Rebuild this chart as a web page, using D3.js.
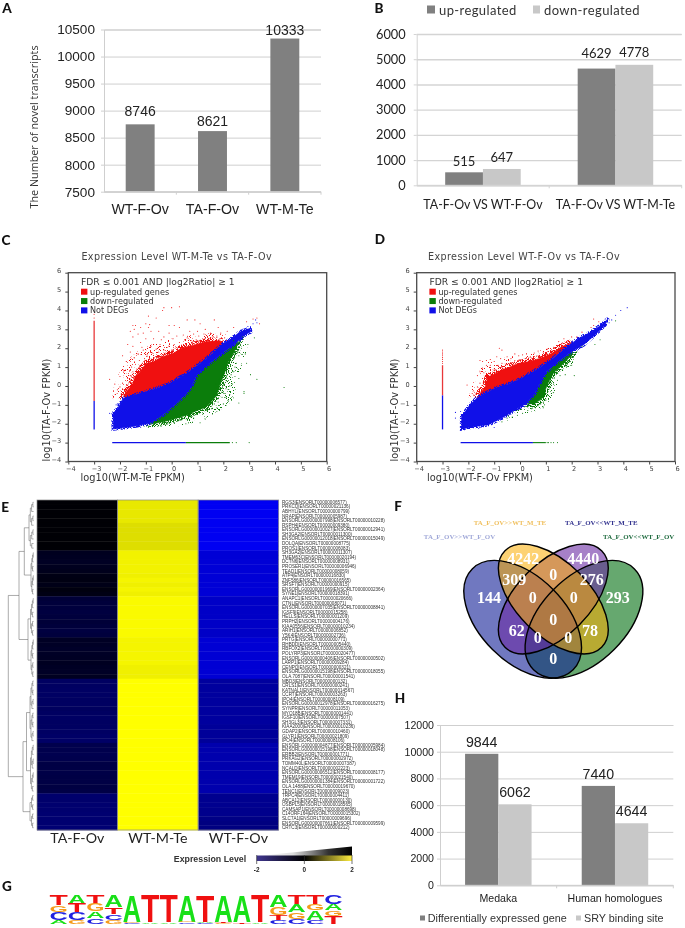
<!DOCTYPE html>
<html><head><meta charset="utf-8">
<script src="https://cdn.jsdelivr.net/npm/d3@7"></script>
<style>html,body{margin:0;padding:0;background:#fff}svg{display:block;filter:blur(.3px)}</style>
</head><body><svg id="c" width="685" height="928" viewBox="0 0 685 928">
<defs>
<filter id="speckSparse" filterUnits="userSpaceOnUse" x="0" y="220" width="685" height="260" color-interpolation-filters="sRGB">
 <feTurbulence type="fractalNoise" baseFrequency="1.05" numOctaves="1" seed="4" result="n"/>
 <feColorMatrix in="n" type="matrix" values="0 0 0 0 0  0 0 0 0 0  0 0 0 0 0  22 0 0 0 -13.6" result="t"/>
 <feComposite in="SourceGraphic" in2="t" operator="in"/>
</filter>
<filter id="speckDense" filterUnits="userSpaceOnUse" x="0" y="220" width="685" height="260" color-interpolation-filters="sRGB">
 <feTurbulence type="fractalNoise" baseFrequency="1.05" numOctaves="1" seed="9" result="n"/>
 <feColorMatrix in="n" type="matrix" values="0 0 0 0 0  0 0 0 0 0  0 0 0 0 0  22 0 0 0 -10.6" result="t"/>
 <feComposite in="SourceGraphic" in2="t" operator="in"/>
</filter>
</defs>
</svg>
<script>
// ---------- A
const aCategories=["WT-F-Ov","TA-F-Ov","WT-M-Te"];
const aValues=[8746,8621,10333];
const aTicks=[7500,8000,8500,9000,9500,10000,10500];
// ---------- B
const bCategories=["TA-F-Ov VS WT-F-Ov","TA-F-Ov VS WT-M-Te"];
const bUp=[515,4629];
const bDown=[647,4778];
const bTicks=[0,1000,2000,3000,4000,5000,6000];
// ---------- H
const hCategories=["Medaka","Human homologues"];
const hDiff=[9844,7440];
const hSry=[6062,4644];
const hTicks=[0,2000,4000,6000,8000,10000,12000];
// ---------- C scatter (log10 FPKM), outlines of clouds and individually read points
const cRedCloud=[[-1.87,-.56],[-1.7,-.2],[-1.5,.1],[-1.42,.5],[-1.25,.72],[-1.1,1.0],[-.97,1.2],[-.7,1.28],[-.45,1.5],[-.2,1.62],[.1,1.75],[.35,1.98],[.58,2.08],[.95,2.2],[1.35,2.35],[1.87,2.4],[2.0,2.26],[1.35,1.46],[.58,.67],[-.19,.05],[-.58,-.12],[-1.22,-.39],[-1.74,-.65]];
const cRedHalo=[[-2.3,-.7],[-2.2,.3],[-1.85,1.2],[-1.3,1.85],[-.8,2.2],[0,2.5],[.8,2.7],[1.6,2.8],[2.2,2.7],[2.1,2.25],[1.35,1.46],[.58,.67],[-.19,.05],[-1.22,-.39],[-1.74,-.65]];
const cBlueCloud=[[-2.26,-1.45],[-2.05,-1.1],[-1.87,-.65],[-1.22,-.39],[-.58,-.12],[-.19,.05],[.58,.67],[1.35,1.46],[2.0,2.26],[2.3,2.5],[2.65,2.87],[3.03,3.05],[3.06,2.87],[2.84,2.7],[2.39,2.17],[1.87,1.64],[1.23,.93],[.97,.58],[.77,-.04],[.58,-.39],[.19,-.92],[-.32,-1.53],[-.84,-1.98],[-1.48,-2.15],[-2.26,-2.28]];
const cGreenCloud=[[.97,.58],[1.23,.93],[1.87,1.64],[2.39,2.17],[2.6,2.35],[2.4,1.75],[2.2,1.3],[2.05,.7],[1.85,.0],[1.75,-.5],[1.35,-1.1],[.9,-1.35],[.58,-1.55],[-.19,-1.85],[-.71,-2.0],[-.84,-1.98],[-.32,-1.53],[.19,-.92],[.58,-.39],[.77,-.04]];
const cGreenHalo=[[2.6,2.35],[2.95,2.25],[2.85,1.5],[2.65,.8],[2.55,0],[2.35,-.8],[1.75,-1.4],[1,-1.9],[.2,-2.15],[-.5,-2.15],[-.84,-2.05],[-.32,-1.53],[.58,-.39],[.97,.58],[1.87,1.64]];
const cRedPoints=[[-1.5,3.2],[-1.45,3.0],[-1.4,3.2],[-1.6,2.9],[-1.5,2.6],[-1.3,2.75],[-1.2,3.1],[-1.1,2.8],[-1.0,3.3],[-.9,3.1],[-.85,3.25],[-.8,2.9],[-.7,2.5],[-1.0,2.5],[-1.7,2.2],[-1.5,2.1],[-1.2,2.3],[-.6,3.6],[-.9,3.7],[-.35,4.0],[-.3,4.15],[0,4.15],[.3,4.2],[-.1,3.2],[.1,3.2],[.3,3.1],[.6,3.5],[.9,3.5],[1.1,3.3],[1.65,3.5],[1.3,3.0],[1.8,3.1],[2.15,2.9],[2.4,3.1],[2.9,3.4],[3.15,3.55],[3.3,3.6],[3.4,3.3],[-.5,2.9],[-.3,2.6],[-.1,2.8],[.05,2.5],[.2,2.65],[.45,2.7],[.7,2.9],[.85,2.75],[1.05,2.65],[1.25,2.75],[1.5,2.8],[1.6,2.6],[1.75,2.65],[2.05,2.55],[-1.9,1.6],[-1.75,1.3],[-1.6,1.8],[-1.45,1.5],[-1.3,1.7],[-1.1,1.9],[-.95,1.65],[-.8,2.1],[-.6,1.95],[-.45,2.2],[-.3,1.9],[-.1,2.1],[.1,2.2],[.3,2.3],[.5,2.45],[.75,2.4],[.95,2.45],[1.2,2.5],[1.45,2.5],[-2.0,.5],[-1.85,.8],[-1.7,.4],[-1.55,1.0],[-1.4,1.15],[-1.25,1.35],[-1.05,1.45],[-.85,1.45],[-.6,1.55],[-.5,1.8],[-.25,1.75],[.0,1.9],[.25,2.05],[.55,2.2],[.8,2.25],[1.1,2.35],[-2.1,-.2],[-2.0,-.05],[-1.9,.15],[-1.75,-.1],[-1.65,.2],[-1.6,.55],[-1.5,.75],[-1.35,.9],[-1.2,1.05],[-2.25,-.6],[-1.95,-.4],[-2.4,.35],[-1.55,.3],[-2.2,.1],[-.4,2.45],[.6,2.55],[1.0,2.9],[1.9,2.8],[-.75,1.75],[-1.15,2.05]];
const cGreenPoints=[[2.75,2.6],[3.2,2.55],[2.95,2.2],[2.7,2.0],[2.6,1.6],[2.9,1.2],[2.5,1.2],[3.05,.6],[3.3,.35],[4.35,-.08],[2.8,-.3],[2.8,-.4],[2.45,.5],[2.35,.1],[2.6,-.9],[1.85,-1.3],[1.3,-1.75],[1.1,-1.95],[.55,-2.0],[-.9,-2.2],[2.4,2.4],[2.55,1.9],[2.3,1.55],[2.45,1.0],[2.2,.95],[2.3,.6],[2.15,.25],[2.1,-.15],[2.0,-.3],[1.95,-.6],[2.1,-.6],[2.25,-.45],[1.8,-.85],[1.65,-.95],[2.0,-.95],[1.55,-1.2],[1.4,-1.25],[1.2,-1.5],[1.0,-1.45],[.85,-1.7],[.6,-1.75],[.35,-1.8],[.1,-1.95],[-.15,-2.0],[-.4,-2.05],[1.9,.55],[1.95,.9],[2.05,1.15],[2.15,1.5],[2.35,1.95],[2.55,2.2],[1.85,.35],[1.7,.1],[1.72,-.25],[1.5,-.85],[1.25,-1.2],[.95,-1.5],[.7,-1.6],[2.25,.0],[2.4,.75],[2.6,.4],[2.7,1.1],[2.85,1.7],[2.0,.2],[1.9,-.1],[2.2,-.8],[1.75,-1.15]];
const cBluePoints=[[3.15,3.3],[3.3,3.35],[3.25,3.5],[2.95,3.15],[2.85,2.95],[2.75,3.0],[-2.3,-1.5],[-2.25,-1.6],[-2.4,-1.45],[-2.3,-2.3],[-1.95,-2.25],[-1.7,-2.25],[-1.2,-2.18],[-2.15,-1.0],[-2.1,-.95]];
const cVerticalRed=[-.8,3.45];
const cVerticalBlue=[-2.3,-.8];
const cVerticalDots=[3.6,3.8];
const cHorizontalBlue=[-2.3,.55];
const cHorizontalGreen=[.55,2.25];
const cHorizontalDots=[2.35,2.5,3.0];
// ---------- D scatter
const dRedCloud=[[-1.68,-.65],[-1.5,-.3],[-1.35,-.04],[-1.28,.3],[-1.23,.49],[-1.0,.62],[-.71,.85],[-.4,1.0],[-.06,1.2],[.3,1.28],[.58,1.38],[.95,1.55],[1.23,1.73],[1.61,2.08],[2,2.29],[1.23,1.41],[.71,.93],[.06,.41],[-.45,.11],[-.97,-.12],[-1.48,-.48]];
const dRedHalo=[[-2.0,-.6],[-1.8,.2],[-1.55,.9],[-1.2,1.3],[-.6,1.5],[.2,1.7],[1,1.95],[1.6,2.4],[2.05,2.4],[1.23,1.41],[.06,.41],[-.97,-.12]];
const dBlueCloud=[[-2.26,-1.62],[-1.94,-1.0],[-1.68,-.65],[-1.48,-.48],[-.97,-.12],[-.45,.11],[.06,.41],[.71,.93],[1.23,1.41],[1.75,2.0],[2.26,2.52],[2.77,2.87],[3.23,3.32],[3.42,3.58],[3.29,3.23],[2.9,2.7],[2.45,2.17],[2,1.82],[1.48,1.29],[1.03,.76],[.77,.14],[.58,-.39],[.26,-.92],[-.19,-1.27],[-.71,-1.71],[-1.23,-2.06],[-1.74,-2.15],[-2.26,-2.28]];
const dGreenCloud=[[.77,.14],[1.03,.76],[1.48,1.29],[2,1.82],[2.05,1.75],[1.7,1.2],[1.3,.7],[1.1,.2],[.95,-.3],[.9,-.6],[.55,-.95],[.26,-.92],[.58,-.39]];
const dGreenHalo=[[2.1,1.85],[2.3,1.9],[2.05,1.2],[1.7,.7],[1.5,.2],[1.3,-.4],[1.05,-.95],[.6,-1.35],[0,-1.55],[-.5,-1.85],[-.71,-1.75],[.26,-.92],[.77,.14],[1.48,1.29]];
const dRedPoints=[[-.8,2.0],[-.7,1.9],[-1.55,1.35],[-1.45,1.3],[-1.3,1.35],[-1.15,1.4],[-1.0,1.3],[-.9,1.55],[-.75,1.45],[-.6,1.4],[-.5,1.55],[-.35,1.45],[-.2,1.7],[-.05,1.6],[.1,1.65],[.25,1.7],[.4,1.55],[.55,1.75],[.7,1.85],[.9,1.8],[1.05,1.95],[1.3,2.05],[1.5,2.35],[1.7,2.5],[-1.65,.55],[-1.55,.75],[-1.45,.95],[-1.3,1.1],[-1.15,1.1],[-1.0,.9],[-.85,1.1],[-.7,1.2],[-.55,1.15],[-.35,1.2],[-.2,1.35],[.0,1.4],[.2,1.45],[.45,1.48],[.7,1.6],[1.0,1.7],[-1.8,-.25],[-1.65,-.05],[-1.55,.15],[-1.45,.4],[-1.85,-.4],[-2.05,.05],[-1.4,.7],[2.75,3.1],[2.85,3.2],[2.85,3.55],[3.05,3.4],[2.4,2.85],[2.2,2.6],[2.0,2.6],[1.85,2.4]];
const dGreenPoints=[[3.7,3.45],[3.1,2.45],[2.9,2.2],[2.4,2.1],[2.05,1.55],[2.0,1.1],[2.1,.55],[1.95,1.3],[1.8,1.0],[1.65,.85],[1.55,.55],[1.75,.6],[1.45,.3],[1.3,.1],[1.25,.4],[1.4,.65],[1.15,-.1],[1.3,-.35],[1.1,-.5],[1.0,-.75],[.95,-1.0],[.8,-.95],[.7,-1.05],[.6,-1.15],[.45,-1.2],[.3,-1.3],[.1,-1.45],[-.1,-1.55],[-.3,-1.65],[-.5,-1.7],[-.7,-1.9],[.9,-1.15],[1.6,1.05],[1.85,1.45],[1.5,.9]];
const dBluePoints=[[3.7,3.75],[3.9,4.0],[4.15,4.15],[3.55,3.5],[3.45,3.35],[3.3,3.55],[2.9,3.0],[-2.5,-1.4],[-2.5,-1.7],[-2.3,-2.2],[-1.6,-2.25],[-1.0,-2.2],[-2.3,-1.35]];
const dVerticalRed=[-.5,1.1];
const dVerticalBlue=[-2.3,-.5];
const dVerticalDots=[1.2,1.3,1.4,1.5,1.6,1.7,1.8,1.9];
const dHorizontalBlue=[-2.3,.5];
const dHorizontalGreen=[.5,1.0];
const dHorizontalDots=[1.05,1.1,1.2,1.3,1.45];
const scatterTicks=[-4,-3,-2,-1,0,1,2,3,4,5,6];
// ---------- E heatmap
const heatColumns=["TA-F-Ov","WT-M-Te","WT-F-Ov"];
const heatGenes=["RGS3|ENSORLT00000006577)","PRKCQ|ENSORLT00000021136)","ABHYL(ENSORLT00000000799)","NRAP|ENSORLT00000005987)","ENSORLG00000007998|ENSORLT00000010228)","RSPH4|ENSORLT00000009380)","ENSORLG00000010027|ENSORLT00000012941)","SH3GA2|ENSORLT00000011300)","ENSORLG00000012018|ENSORLT00000015049)","DOLQA|ENSORLT00000008775)","PROS1|ENSORLT00000006083)","SH3GA2|ENSORLT00000011307)","TMEM63C|ENSORLT00000020194)","DCTN6|ENSORLT00000008931)","PROSER1|ENSORLT00000006946)","TEAD1|ENSORLT00000008059)","ATP4|ENSORLT00000016830)","ZNF586|ENSORLT00000016565)","SRSF7|ENSORLT00000000915)","ENSORLG00000001969|ENSORLT00000002364)","SYNE1|ENSORLT00000018391)","ANAPC1|ENSORLT00000020666)","CTNL|ENSORLT00000008071)","ENSORLG00000007035|ENSORLT00000008841)","IGSF9|ENSORLT00000015258)","HELLS|ENSORLT00000001209)","PRPH2|ENSORLT00000004176)","KIAA0556|ENSORLT00000010234)","ARIH1|ENSORLT00000006852)","Y5K4|ENSORLT00000002736)","PRTG|ENSORLT00000000771)","RHBDD|ENSORLT00000005440)","RBFOX2|ENSORLT00000000309)","POLYRP3|ENSORLT00000020477)","ENSORLG00000000406|ENSORLT00000000502)","LARP1|ENSORLT00000009284)","CENPQ|ENSORLT00000000321)","ENSORLG00000015198|ENSORLT00000018055)","OLA.7087|ENSORLT00000001541)","MBD3|ENSORLT00000000132)","CRLS1|ENSORLT00000000241)","KATNAL1|ENSORLT00000014567)","CCRT|ENSORLT00000003263)","IPO4|ENSORLT00000008109)","ENSORLG00000012978|ENSORLT00000016275)","SYNPR|ENSORLT00000011053)","MYO18B|ENSORLT00000001441)","IGSF10|ENSORLT00000007507)","SH3GL3|ENSORLT00000007331)","KIAA2000|ENSORLT00000010236)","GDAP2|ENSORLT00000010460)","GLYR1|ENSORLT00000021809)","IPO4|ENSORLT00000008106)","ENSORLG00000004877|ENSORLT00000005984)","ENSORLG00000015198|ENSORLT00000018048)","ERBB2|ENSORLT00000001771)","PRKAG2|ENSORLT00000002972)","TOMM40L|ENSORLT00000007387)","NCALD|ENSORLT00000002223)","ENSORLG00000006512|ENSORLT00000008177)","TMEM19|ENSORLT00000021540)","ENSORLG00000001384|ENSORLT00000001722)","OLA.1488|ENSORLT00000019670)","TENC1|ENSORLT00000009023)","TRPC4|ENSORLT00000004411)","ABCA12|ENSORLT00000000130)","OSBPL5|ENSORLT00000018565)","CAMSAP1|ENSORLT00000008698)","C14ORF164|ENSORLT00000015302)","SLC7A1|ENSORLT00000009696)","ENSORLG00000007661|ENSORLT00000009599)","CRTC3|ENSORLT00000000212)"];
const heatTA=[-.02,-.02,-.02,-.02,-.02,-.02,-.02,-.02,-.02,-.02,-.02,-.12,-.13,-.14,-.12,-.11,-.08,-.07,-.09,-.06,-.08,-.22,-.23,-.24,-.25,-.24,-.22,-.23,-.25,-.24,-.14,-.15,-.16,-.15,-.14,-.13,-.14,-.15,-.13,-.38,-.38,-.39,-.39,-.38,-.38,-.37,-.38,-.39,-.38,-.38,-.39,-.40,-.40,-.30,-.30,-.31,-.30,-.27,-.27,-.28,-.27,-.27,-.26,-.27,-.42,-.42,-.43,-.43,-.44,-.44,-.44,-.45];
const heatWM=[.91,.91,.91,.91,.91,.87,.87,.87,.87,.87,.87,.95,.95,.95,.95,.95,.94,.96,.94,.96,.94,.98,.98,.98,.98,.98,.98,.98,.98,.98,.96,.96,.96,.96,.96,.96,.94,.94,.94,1,1,1,1,1,1,1,1,1,1,1,1,1,1,1,1,1,1,1,1,1,1,1,1,1,1,1,1,1,1,1,1,1];
const heatWF=[-.95,-.95,-.95,-.95,-.95,-.95,-.95,-.95,-.95,-.95,-.95,-.84,-.84,-.84,-.84,-.84,-.84,-.84,-.84,-.84,-.84,-.78,-.78,-.78,-.78,-.78,-.78,-.78,-.78,-.78,-.83,-.83,-.83,-.83,-.83,-.83,-.83,-.83,-.83,-.62,-.62,-.62,-.62,-.62,-.62,-.62,-.62,-.62,-.62,-.60,-.60,-.60,-.60,-.68,-.68,-.68,-.68,-.68,-.68,-.68,-.68,-.68,-.68,-.68,-.56,-.56,-.56,-.55,-.55,-.52,-.50,-.50];
// tree: [height, child, child]; a leaf group is a [firstRow, lastRowExclusive] pair
const dendrogramTree=[8.3,
  [19,[24.3,[29,[0,11]],[31,[11,21]]],[28,[30.5,[21,30]],[31,[30,39]]]],
  [23,[26.5,[30,[39,53]],[30.5,[53,64]]],[30,[31.5,[64,68]],[31.5,[68,72]]]]];
// ---------- F venn
const vennSets=["TA_F_OV>>WT_F_OV","TA_F_OV<<WT_F_OV","TA_F_OV<<WT_M_TE","TA_F_OV>>WT_M_TE"];
const vennCounts=["4242","4440","309","0","276","144","0","0","293","0","62","78","0","0","0"];
// ---------- G logo: stacks from top to bottom as [letter, share of height]
const logoStacks=[
 [["T",.35],["G",.24],["C",.27],["A",.14]],
 [["A",.3],["T",.3],["C",.26],["G",.14]],
 [["T",.3],["G",.27],["A",.23],["C",.2]],
 [["A",.42],["T",.25],["C",.2],["G",.13]],
 [["A",.95],["G",.02],["C",.03]],
 [["T",.96],["A",.04]],
 [["T",.96],["A",.04]],
 [["A",.93],["G",.03],["C",.04]],
 [["T",.95],["A",.02],["C",.03]],
 [["A",.94],["T",.04],["G",.02]],
 [["A",.95],["T",.05]],
 [["T",.96],["A",.04]],
 [["A",.42],["G",.28],["T",.18],["C",.12]],
 [["T",.33],["A",.27],["G",.23],["C",.17]],
 [["T",.32],["G",.22],["A",.32],["C",.14]],
 [["C",.32],["A",.22],["G",.2],["T",.26]]];

const svg=d3.select("#c");
const SANS="'Liberation Sans',Arial,sans-serif", LATO="Lato,sans-serif", DJ="'DejaVu Sans',sans-serif", SERIF="'Liberation Serif',serif";
const txt=(p,t,x,y,o={})=>{const e=p.append("text").attr("x",x).attr("y",y).attr("text-anchor",o.a||"middle").attr("dominant-baseline","central").attr("font-family",o.f||SANS).attr("font-size",o.s||10).attr("fill",o.c||"#222").text(t);
 if(o.w)e.attr("font-weight",o.w); if(o.ls)e.attr("letter-spacing",o.ls); if(o.r)e.attr("transform",`rotate(${o.r} ${x} ${y})`); return e;};
[["A",7,8],["B",379,8],["C",6,240],["D",380,239],["E",5,507],["F",398,506],["G",7,886],["H",400,698]].forEach(d=>txt(svg,d[0],d[1],d[2],{f:LATO,w:900,s:13.5,c:"#111"}));

function barChart(o){
 const g=svg.append("g");
 const x=d3.scaleBand().domain(o.cats).range([o.x0,o.x1]).paddingInner(o.pad).paddingOuter(o.pad/2);
 const inner=d3.scaleBand().domain(d3.range(o.series.length)).range([0,x.bandwidth()]);
 const y=d3.scaleLinear().domain(o.domain).range([o.y0,o.y1]);
 const ax=g.append("g").attr("transform",`translate(${o.x0},0)`).call(d3.axisLeft(y).tickValues(o.ticks).tickSize(-(o.x1-o.x0)).tickPadding(o.tp).tickFormat(d3.format("d")));
 ax.select(".domain").attr("stroke",o.grid).attr("stroke-width",1);
 ax.selectAll(".tick line").attr("stroke",o.grid).attr("stroke-width",o.gw||1);
 ax.selectAll(".tick").append("line").attr("x1",-3).attr("x2",0).attr("stroke",o.grid);
 ax.selectAll("text").attr("font-family",o.font).attr("font-size",o.tick).attr("fill","#222");
 o.cats.forEach((c,i)=>{const bx=o.x0+(o.x1-o.x0)*(i+1)/o.cats.length;
   g.append("line").attr("x1",bx).attr("x2",bx).attr("y1",o.y0).attr("y2",o.y0+3).attr("stroke",o.grid);
   txt(g,c,x(c)+x.bandwidth()/2,o.y0+o.catDy,{f:o.font,s:o.cat,ls:o.catLs});});
 o.series.forEach((s,k)=>{
  g.selectAll(null).data(s.values).join("rect").attr("x",(d,i)=>x(o.cats[i])+inner(k)).attr("width",inner.bandwidth()).attr("y",d=>y(d)).attr("height",d=>o.y0-y(d)).attr("fill",s.color);
  s.values.forEach((d,i)=>txt(g,d,x(o.cats[i])+inner(k)+inner.bandwidth()/2,y(d)-o.labelDy[k][i],{f:o.font,s:o.lab}));
 });
 g.append("line").attr("x1",o.x0).attr("x2",o.x1).attr("y1",o.y0).attr("y2",o.y0).attr("stroke",o.grid).attr("stroke-width",1);
 return g;
}
const ga=barChart({cats:aCategories,x0:104,x1:321,y0:191.7,y1:29.5,pad:.6,domain:[7500,10500],ticks:aTicks,series:[{values:aValues,color:"#808080"}],grid:"#cfcfcf",font:SANS,tick:13.6,cat:14.2,lab:14,tp:9,catDy:17.5,labelDy:[[13.5,10.5,8.5]]});
txt(ga,"The Number of novel transcripts",33,127,{f:"'Open Sans',sans-serif",s:10.8,r:-90,c:"#333"});
const gb=barChart({cats:bCategories,x0:416.7,x1:681.7,y0:185.3,y1:34,pad:.43,domain:[0,6000],ticks:bTicks,series:[{values:bUp,color:"#808080"},{values:bDown,color:"#c8c8c8"}],grid:"#d4d4d4",gw:1.4,font:LATO,tick:12.8,cat:12.4,lab:13,tp:11,catDy:19.5,labelDy:[[11.5,15.5],[11.5,12.5]]});
gb.append("rect").attr("x",427).attr("y",5.5).attr("width",8).attr("height",8).attr("fill","#808080");
gb.append("rect").attr("x",533).attr("y",5.5).attr("width",7).attr("height",8).attr("fill","#c8c8c8");
txt(gb,"up-regulated",439,9.5,{f:LATO,s:13,a:"start",ls:.4,c:"#333"});
txt(gb,"down-regulated",544,9.5,{f:LATO,s:13,a:"start",ls:.4,c:"#333"});
const gh=barChart({cats:hCategories,x0:440,x1:673.3,y0:885.3,y1:725,pad:.43,domain:[0,12000],ticks:hTicks,series:[{values:hDiff,color:"#7f7f7f"},{values:hSry,color:"#c8c8c8"}],grid:"#cfcfcf",font:SANS,tick:10.6,cat:10.6,lab:14.2,tp:6,catDy:13,labelDy:[[12,12],[12,12]]});
gh.append("rect").attr("x",420).attr("y",915.5).attr("width",5).attr("height",5).attr("fill","#7f7f7f");
gh.append("rect").attr("x",576).attr("y",915.5).attr("width",5).attr("height",5).attr("fill","#c8c8c8");
txt(gh,"Differentially expressed gene",427.7,918.3,{s:10.8,a:"start",c:"#333"});
txt(gh,"SRY binding site",584,918.3,{s:10.8,a:"start",c:"#333"});

function scatter(o){
 const g=svg.append("g");
 const x=d3.scaleLinear().domain([-4,6]).range([o.x0,o.x1]);
 const y=d3.scaleLinear().domain([-4,6]).range([461.5,272.7]);
 const line=d3.line().x(d=>x(d[0])).y(d=>y(d[1])).curve(d3.curveLinearClosed);
 const RED="#f01010",GREEN="#0b7d0b",BLUE="#1010e8";
 [[o.greenHalo,GREEN],[o.redHalo,RED]].forEach(([d,c])=>g.append("path").attr("d",line(d)).attr("fill",c).attr("filter","url(#speckSparse)"));
 [[o.green,GREEN,7],[o.red,RED,7]].forEach(([d,c,w])=>g.append("path").attr("d",line(d)).attr("fill","none").attr("stroke",c).attr("stroke-width",w).attr("filter","url(#speckDense)"));
 [[o.green,GREEN],[o.red,RED]].forEach(([d,c])=>g.append("path").attr("d",line(d)).attr("fill",c).attr("stroke",c).attr("stroke-width",.6));
 g.append("path").attr("d",line(o.blue)).attr("fill","none").attr("stroke",BLUE).attr("stroke-width",3.5).attr("filter","url(#speckDense)");
 g.append("path").attr("d",line(o.blue)).attr("fill",BLUE).attr("stroke",BLUE).attr("stroke-width",.6);
 const dots=(pts,c)=>g.selectAll(null).data(pts).join("circle").attr("cx",d=>x(d[0])).attr("cy",d=>y(d[1])).attr("r",.55).attr("fill",c);
 dots(o.rp,RED);dots(o.gp,GREEN);dots(o.bp,BLUE);
 const seg=(x1,x2,y1,y2,c,w)=>g.append("line").attr("x1",x(x1)).attr("x2",x(x2)).attr("y1",y(y1)).attr("y2",y(y2)).attr("stroke",c).attr("stroke-width",w);
 seg(-3,-3,o.vr[0],o.vr[1],"#e8383a",1.3);seg(-3,-3,o.vb[0],o.vb[1],BLUE,1.3);
 seg(o.hb[0],o.hb[1],-3,-3,BLUE,1.2);seg(o.hg[0],o.hg[1],-3,-3,GREEN,1.1);
 dots(o.vd.map(v=>[-3,v]),RED);dots(o.hd.map(v=>[v,-3]),GREEN);
 // axes
 const ay=g.append("g").attr("transform",`translate(${o.x0},0)`).call(d3.axisLeft(y).tickValues(scatterTicks).tickSize(3).tickPadding(4).tickFormat(d3.format("d")));
 const ax=g.append("g").attr("transform","translate(0,461.5)").call(d3.axisBottom(x).tickValues(scatterTicks).tickSize(3).tickPadding(1.5).tickFormat(d3.format("d")));
 [ay,ax].forEach(a=>{a.select(".domain").remove();a.selectAll("line").attr("stroke","#444");a.selectAll("text").attr("font-family",DJ).attr("font-size",6.6).attr("fill","#444");});
 ay.selectAll("text").attr("dy","0.02em");ax.selectAll("text").attr("dx",2);
 g.append("rect").attr("x",o.x0).attr("y",272.7).attr("width",o.x1-o.x0).attr("height",188.8).attr("fill","none").attr("stroke","#4a4a4a").attr("stroke-width",1.3);
 // texts
 txt(g,o.title,o.tx,256.7,{f:DJ,s:9.6,ls:.4,c:"#444"});
 txt(g,o.xt,o.xtx,477.3,{f:DJ,s:9.8,c:"#333"});
 txt(g,o.yt,o.ytx,410,{f:DJ,s:9.8,r:-90,c:"#333"});
 const lx=o.x0+12.7;
 txt(g,"FDR ≤ 0.001 AND |log2Ratio| ≥ 1",lx,281.7,{f:DJ,s:9.2,a:"start",c:"#333"});
 [["up-regulated genes",RED],["down-regulated",GREEN],["Not DEGs",BLUE]].forEach((d,i)=>{
  g.append("rect").attr("x",lx).attr("y",288.7+i*9.35).attr("width",6.4).attr("height",6).attr("fill",d[1]);
  txt(g,d[0],lx+9,291.7+i*9.35,{f:DJ,s:8.1,a:"start",c:"#333"});});
}
scatter({x0:68.3,x1:326.7,green:cGreenCloud,red:cRedCloud,blue:cBlueCloud,greenHalo:cGreenHalo,redHalo:cRedHalo,rp:cRedPoints,gp:cGreenPoints,bp:cBluePoints,vr:cVerticalRed,vb:cVerticalBlue,hb:cHorizontalBlue,hg:cHorizontalGreen,vd:cVerticalDots,hd:cHorizontalDots,title:"Expression Level WT-M-Te vs TA-F-Ov",tx:176.7,xt:"log10(WT-M-Te FPKM)",xtx:132.7,yt:"log10(TA-F-Ov FPKM)",ytx:46});
scatter({x0:416.7,x1:675,green:dGreenCloud,red:dRedCloud,blue:dBlueCloud,greenHalo:dGreenHalo,redHalo:dRedHalo,rp:dRedPoints,gp:dGreenPoints,bp:dBluePoints,vr:dVerticalRed,vb:dVerticalBlue,hb:dHorizontalBlue,hg:dHorizontalGreen,vd:dVerticalDots,hd:dHorizontalDots,title:"Expression Level WT-F-Ov vs TA-F-Ov",tx:524,xt:"log10(WT-F-Ov FPKM)",xtx:480,yt:"log10(TA-F-Ov FPKM)",ytx:394.3});

// heatmap
{
 const g=svg.append("g");
 const x=d3.scaleBand().domain(heatColumns).range([37,278.7]);
 const y=d3.scaleBand().domain(d3.range(heatGenes.length)).range([500,830]);
 const col=d3.scaleLinear().domain([-1,0,1]).range(["#0000ff","#000000","#ffff00"]);
 [heatTA,heatWM,heatWF].forEach((vals,k)=>{
  g.selectAll(null).data(vals).join("rect").attr("x",x(heatColumns[k])).attr("width",x.bandwidth()).attr("y",(d,i)=>y(i)).attr("height",y.bandwidth()+.4).attr("fill",d=>col(d));
  txt(g,heatColumns[k],x(heatColumns[k])+x.bandwidth()/2,837.5,{f:LATO,s:14.2,c:"#222"});
 });
 heatColumns.forEach(c=>g.append("rect").attr("x",x(c)).attr("y",500).attr("width",x.bandwidth()).attr("height",330).attr("fill","none").attr("stroke","#8a8a8a").attr("stroke-width",.7));
 g.selectAll(null).data(heatGenes).join("text").attr("x",282).attr("y",(d,i)=>y(i)+y.bandwidth()/2).attr("dominant-baseline","central").attr("font-family",SANS).attr("font-size",4.6).attr("fill","#333").text(d=>d);
 // dendrogram
 const rowY=r=>y(r)+y.bandwidth()/2;
 const dn=g.append("g").attr("stroke","#666").attr("stroke-width",.55).attr("fill","none");
 const leafX=33.6;
 function comb(a,b,h){
  if(b-a===1)return {y:rowY(a),x:leafX};
  const m=a+Math.ceil((b-a)/2), step=(leafX-h)/Math.max(1,Math.log2(b-a));
  const c1=comb(a,m,h+step), c2=comb(m,b,h+step);
  return join(h,c1,c2);
 }
 function join(h,c1,c2){
  dn.append("path").attr("d",`M${c1.x},${c1.y}H${h}V${c2.y}H${c2.x}`);
  return {x:h,y:(c1.y+c2.y)/2};
 }
 function walk(n){
  if(n.length===2&&typeof n[1][0]==="number"&&n[1].length===2) return comb(n[1][0],n[1][1],n[0]);
  return join(n[0],walk(n[1]),walk(n[2]));
 }
 walk(dendrogramTree);
 // colour key
 const defs=svg.select("defs");
 const lg=defs.append("linearGradient").attr("id","key");
 [[0,"#40368f"],[.5,"#000"],[1,"#ffee40"]].forEach(s=>lg.append("stop").attr("offset",s[0]).attr("stop-color",s[1]));
 const lw=defs.append("linearGradient").attr("id","wedge");
 [[0,"#fff"],[.38,"#ddd"],[.75,"#333"],[1,"#000"]].forEach(s=>lw.append("stop").attr("offset",s[0]).attr("stop-color",s[1]));
 const kx=d3.scaleLinear().domain([-2,2]).range([256.7,352]);
 g.append("path").attr("d",`M${kx(-2)},856L${kx(2)},846.5V856Z`).attr("fill","url(#wedge)");
 g.append("rect").attr("x",kx(-2)).attr("y",855.5).attr("width",kx(2)-kx(-2)).attr("height",5.5).attr("fill","url(#key)");
 [-2,0,2].forEach(v=>{g.append("line").attr("x1",kx(v)).attr("x2",kx(v)).attr("y1",855).attr("y2",864).attr("stroke","#333").attr("stroke-width",.7);
  txt(g,v,kx(v),869.7,{s:6.4,w:700,c:"#222"});});
 txt(g,"Expression Level",210,859,{s:8.8,w:700,c:"#333"});
}

// venn
{
 const g=svg.append("g").attr("transform","translate(395,495) scale(.3333)");
 const shapes=[
  {cx:567,cy:373,a:214,b:128,r:-45,c:"#006e0f",o:.6},
  {cx:383,cy:373,a:214,b:128,r:45,c:"#111e96",o:.6},
  {cx:475,cy:312,a:205,b:110,r:-45,c:"#6b2ba3",o:.6},
  {cx:475,cy:312,a:205,b:110,r:45,c:"#fbad00",o:.55}];
 shapes.forEach(s=>g.append("ellipse").attr("rx",s.a).attr("ry",s.b).attr("transform",`translate(${s.cx},${s.cy}) rotate(${s.r})`).attr("fill",s.c).attr("fill-opacity",s.o));
 shapes.forEach(s=>g.append("ellipse").attr("rx",s.a).attr("ry",s.b).attr("transform",`translate(${s.cx},${s.cy}) rotate(${s.r})`).attr("fill","none").attr("stroke","#000").attr("stroke-width",4.2));
 const v=svg.append("g");
 [[459.5,536.7,"#a0a8d8"],[638.7,536.7,"#1f6b3f"],[601.3,522,"#33338f"],[510,522,"#f0c060"]].forEach((p,i)=>txt(v,vennSets[i],p[0],p[1],{f:SERIF,s:6.9,w:700,c:p[2]}));
 const pos=[[523.3,558.3],[583.3,558.3],[514.3,579],[553.3,574.3],[591.7,579],[489,597.3],[532.7,597.3],[573.7,597.3],[617.7,597.3],[553.3,619.3],[516.7,630],[590,630],[537.7,637.7],[568.3,637.7],[553.3,658.3]];
 vennCounts.forEach((t,i)=>txt(v,t,pos[i][0],pos[i][1],{f:SERIF,s:16,w:700,c:"#fff"}));
}

// logo
{
 const g=svg.append("g");
 const x=d3.scaleBand().domain(d3.range(logoStacks.length)).range([49.5,342.5]);
 const y=d3.scaleLinear().domain([0,1]).range([923.5,895]);
 const colour={A:"#18e018",T:"#f01010",G:"#f59a1a",C:"#2020e0"};
 const adv={A:.722,T:.611,G:.778,C:.722};
 logoStacks.forEach((st,i)=>{
  let top=1;
  st.forEach(([l,h])=>{
   const bottom=top-h;
   const sx=x.bandwidth()/(adv[l]*100), sy=(y(bottom)-y(top))/72;
   g.append("text").attr("transform",`translate(${x(i)},${y(bottom)}) scale(${sx},${sy})`).attr("font-family",SANS).attr("font-weight",700).attr("font-size",100).attr("fill",colour[l]).text(l);
   top=bottom;
  });
 });
}
</script></body></html>
